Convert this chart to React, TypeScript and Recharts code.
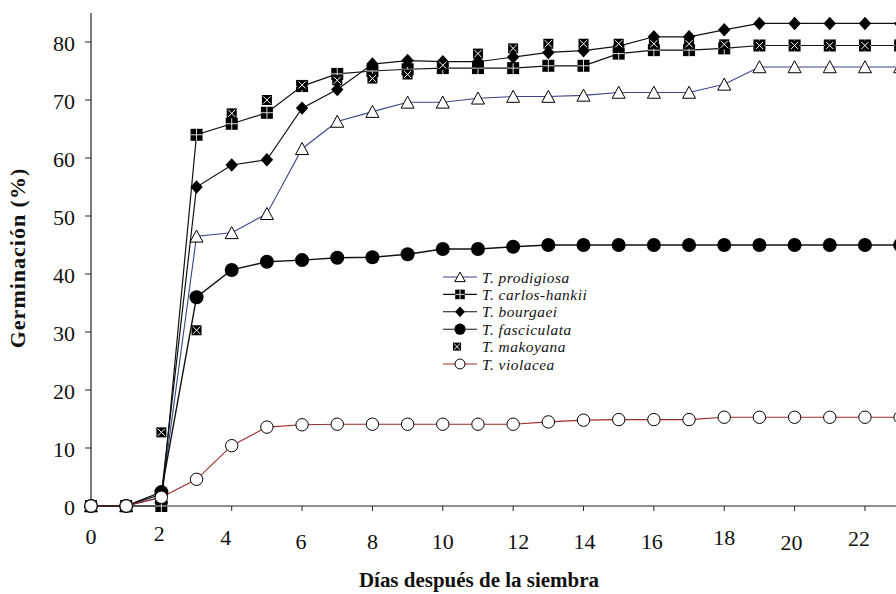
import React from "react";
import { LineChart, Line, XAxis, YAxis } from "recharts";

const days = [0, 1, 2, 3, 4, 5, 6, 7, 8, 9, 10, 11, 12, 13, 14, 15, 16, 17, 18, 19, 20, 21, 22, 23];
const prodigiosa = [0, 0, 1.5, 46.5, 47.1, 50.4, 61.6, 66.3, 68.0, 69.6, 69.6, 70.3, 70.6, 70.6, 70.8, 71.3, 71.3, 71.3, 72.7, 75.7, 75.7, 75.7, 75.7, 75.7];
const carlosHankii = [0, 0, 0, 64.0, 65.9, 67.8, 72.4, 74.5, 75.0, 75.3, 75.5, 75.5, 75.5, 75.9, 75.9, 78.0, 78.6, 78.6, 78.9, 79.4, 79.4, 79.4, 79.4, 79.4];
const bourgaei = [0, 0, 2.0, 55.0, 58.8, 59.7, 68.6, 71.8, 76.2, 76.8, 76.6, 76.6, 77.4, 78.2, 78.5, 79.3, 80.9, 80.9, 82.1, 83.2, 83.2, 83.2, 83.2, 83.2];
const fasciculata = [0, 0, 2.4, 36.0, 40.7, 42.1, 42.4, 42.8, 42.9, 43.4, 44.3, 44.3, 44.7, 45.0, 45.0, 45.0, 45.0, 45.0, 45.0, 45.0, 45.0, 45.0, 45.0, 45.0];
const makoyana = [0, 0, 12.7, 30.3, 67.7, 70.0, 72.6, 73.4, 73.7, 74.4, 76.0, 78.0, 78.9, 79.7, 79.7, 79.7, 79.7, 79.7, 79.6, 79.4, 79.4, 79.4, 79.4, 79.4];
const violacea = [0, 0, 1.5, 4.6, 10.4, 13.6, 14.0, 14.1, 14.1, 14.1, 14.1, 14.1, 14.1, 14.5, 14.8, 14.9, 14.9, 14.9, 15.3, 15.3, 15.3, 15.3, 15.3, 15.3];

const xTicks = [0, 2, 4, 6, 8, 10, 12, 14, 16, 18, 20, 22];
const yTicks = [0, 10, 20, 30, 40, 50, 60, 70, 80];

const xTitle = "Días después de la siembra";
const yTitle = "Germinación (%)";

const data = days.map((d, i) => ({
  day: d,
  prodigiosa: prodigiosa[i],
  carlosHankii: carlosHankii[i],
  bourgaei: bourgaei[i],
  fasciculata: fasciculata[i],
  makoyana: makoyana[i],
  violacea: violacea[i],
}));

const FONT = "Liberation Serif, Times New Roman, DejaVu Serif, serif";

type MP = { cx: number; cy: number; s?: number };

const Tri = ({ cx, cy, s = 1 }: MP) => {
  const w = 6.5 * s, t = 6.2 * s, b = 5.8 * s;
  return <polygon points={`${cx},${cy - t} ${cx + w},${cy + b} ${cx - w},${cy + b}`} fill="#fff" stroke="#000" strokeWidth={1} />;
};
const SqPlus = ({ cx, cy, s = 1 }: MP) => {
  const h = 6 * s;
  return (
    <g>
      <rect x={cx - h} y={cy - h} width={2 * h} height={2 * h} fill="#000" />
      <line x1={cx} y1={cy - h} x2={cx} y2={cy + h} stroke="#ddd" strokeWidth={1} />
      <line x1={cx - h} y1={cy} x2={cx + h} y2={cy} stroke="#ddd" strokeWidth={1} />
    </g>
  );
};
const Dia = ({ cx, cy, s = 1 }: MP) => {
  const w = 6.2 * s, h = 6.7 * s;
  return <polygon points={`${cx},${cy - h} ${cx + w},${cy} ${cx},${cy + h} ${cx - w},${cy}`} fill="#000" />;
};
const Dot = ({ cx, cy, s = 1 }: MP) => <circle cx={cx} cy={cy} r={7 * s} fill="#000" />;
const SqX = ({ cx, cy, s = 1 }: MP) => {
  const h = 5 * s, k = 3.6 * s;
  return (
    <g>
      <rect x={cx - h} y={cy - h} width={2 * h} height={2 * h} fill="#000" />
      <line x1={cx - k} y1={cy - k} x2={cx + k} y2={cy + k} stroke="#fff" strokeWidth={1} />
      <line x1={cx - k} y1={cy + k} x2={cx + k} y2={cy - k} stroke="#fff" strokeWidth={1} />
    </g>
  );
};
const Open = ({ cx, cy, s = 1 }: MP) => <circle cx={cx} cy={cy} r={6.2 * s} fill="#fff" stroke="#000" strokeWidth={1} />;

const series = [
  { key: "prodigiosa", name: "T. prodigiosa", color: "#3b4487", width: 1.1, Marker: Tri, line: true },
  { key: "carlosHankii", name: "T. carlos-hankii", color: "#111", width: 1.2, Marker: SqPlus, line: true },
  { key: "bourgaei", name: "T. bourgaei", color: "#111", width: 1.2, Marker: Dia, line: true },
  { key: "fasciculata", name: "T. fasciculata", color: "#111", width: 1.4, Marker: Dot, line: true },
  { key: "makoyana", name: "T. makoyana", color: "#111", width: 0, Marker: SqX, line: false },
  { key: "violacea", name: "T. violacea", color: "#9b2a2a", width: 1.1, Marker: Open, line: true },
];

const xTickShift: Record<number, [number, number]> = {
  0: [0, 30.5], 2: [-2, 28], 4: [-6, 32], 6: [-1, 35.7], 8: [0, 35.7], 10: [0, 35.7],
  12: [5, 35.7], 14: [1, 35.7], 16: [-2, 35.7], 18: [0, 31.7], 20: [-3, 37], 22: [-6, 32.3],
};

const XTick = (props: any) => {
  const { x, payload } = props;
  const v = payload.value as number;
  const [dx, off] = xTickShift[v] || [0, 35];
  const axisY = 506;
  return (
    <text x={x + dx} y={axisY + off} textAnchor="middle" dominantBaseline="central" style={{ fontFamily: FONT }} fontSize={22} fill="#111">
      {v}
    </text>
  );
};

const YTick = (props: any) => {
  const { x, y, payload } = props;
  return (
    <text x={x} y={y + 1.5} textAnchor="end" dominantBaseline="central" style={{ fontFamily: FONT }} fontSize={22} fill="#111">
      {payload.value}
    </text>
  );
};

const XTitle = () => (
  <text x={479} y={580} textAnchor="middle" dominantBaseline="central" style={{ fontFamily: FONT }} fontWeight="bold" fontSize={21} fill="#111">
    {xTitle}
  </text>
);
const YTitle = () => (
  <text x={18} y={258} transform="rotate(-90 18 258)" textAnchor="middle" dominantBaseline="central" style={{ fontFamily: FONT }} fontWeight="bold" fontSize={22} letterSpacing={1} fill="#111">
    {yTitle}
  </text>
);

const LegendBox = () => (
  <svg width={220} height={125} style={{ position: "absolute", left: 438, top: 265 }}>
    {series.map((s, i) => {
      const cy = 12 + i * 17.4;
      const M = s.Marker;
      return (
        <g key={s.key}>
          {s.line && <line x1={5} y1={cy} x2={39} y2={cy} stroke={s.color} strokeWidth={1.1} />}
          <M cx={s.line ? 22 : 19} cy={cy} s={0.8} />
          <text x={44} y={cy} dominantBaseline="central" style={{ fontFamily: FONT }} fontStyle="italic" fontSize={15.4} letterSpacing={0.5} fill="#111">
            {s.name}
          </text>
        </g>
      );
    })}
  </svg>
);

export default function App() {
  const pxPerDay = 35.18;
  const chartW = 91 + 24 * pxPerDay + 6;
  return (
    <div style={{ position: "fixed", left: 0, top: 0, width: 896, height: 594, overflow: "hidden", background: "#fff" }}>
      <LineChart width={chartW} height={594} data={data} margin={{ top: 13, right: 6, bottom: 0, left: 0 }}>
        <XAxis
          dataKey="day"
          type="number"
          domain={[0, 24]}
          ticks={xTicks}
          interval={0}
          tickSize={5}
          tickMargin={0}
          axisLine={{ stroke: "#222", strokeWidth: 1.2 }}
          tickLine={{ stroke: "#222", strokeWidth: 1 }}
          height={88}
          tick={<XTick />}
          label={<XTitle />}
        />
        <YAxis
          type="number"
          domain={[0, 85]}
          ticks={yTicks}
          interval={0}
          width={91}
          tickSize={6}
          tickMargin={10}
          axisLine={{ stroke: "#222", strokeWidth: 1.2 }}
          tickLine={{ stroke: "#222", strokeWidth: 1 }}
          tick={<YTick />}
          label={<YTitle />}
        />
        {series.map((s) => {
          const M = s.Marker;
          return (
            <Line
              key={s.key}
              dataKey={s.key}
              name={s.name}
              type="linear"
              stroke={s.line ? s.color : "none"}
              strokeWidth={s.width}
              isAnimationActive={false}
              dot={(p: any) => <M key={`${s.key}-${p.index}`} cx={p.cx} cy={p.cy} />}
              activeDot={false}
            />
          );
        })}
      </LineChart>
      <LegendBox />
    </div>
  );
}
